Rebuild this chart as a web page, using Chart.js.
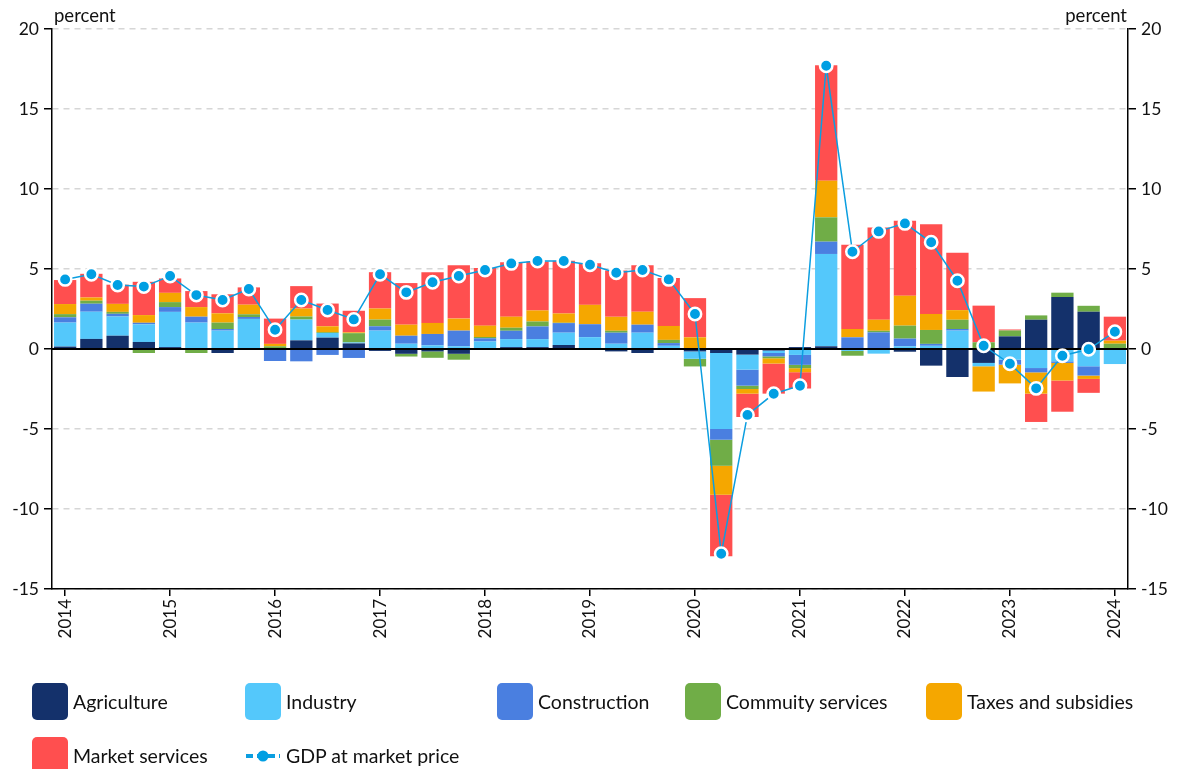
<!DOCTYPE html>
<html>
<head>
<meta charset="utf-8">
<script src="https://cdn.jsdelivr.net/npm/chart.js"></script>
<style>
  html, body { margin: 0; padding: 0; background: #fff; }
  #wrap { position: relative; width: 1179px; height: 769px; overflow: hidden; }
  #box { position: absolute; left: 0; top: 0; width: 1179px; height: 769px; }
  #legend {
    position: absolute; left: 32px; top: 683px;
    display: grid;
    grid-template-columns: 213px 252px 188px 241px auto;
    row-gap: 17px;
    font-family: Lato, "Noto Sans", sans-serif; font-size: 19.5px; color: #111;
  }
  .item { display: flex; align-items: center; height: 37px; }
  .sw { width: 36px; height: 37px; border-radius: 5px; margin-right: 5px; flex: none; }
  .ln { width: 36px; height: 14px; margin-right: 5px; flex: none; }
</style>
</head>
<body>
<div id="wrap">
  <div id="box"><canvas id="chart"></canvas></div>
  <div id="legend"></div>
</div>
<script>
const quarters = [
  '2014 Q1','2014 Q2','2014 Q3','2014 Q4',
  '2015 Q1','2015 Q2','2015 Q3','2015 Q4',
  '2016 Q1','2016 Q2','2016 Q3','2016 Q4',
  '2017 Q1','2017 Q2','2017 Q3','2017 Q4',
  '2018 Q1','2018 Q2','2018 Q3','2018 Q4',
  '2019 Q1','2019 Q2','2019 Q3','2019 Q4',
  '2020 Q1','2020 Q2','2020 Q3','2020 Q4',
  '2021 Q1','2021 Q2','2021 Q3','2021 Q4',
  '2022 Q1','2022 Q2','2022 Q3','2022 Q4',
  '2023 Q1','2023 Q2','2023 Q3','2023 Q4',
  '2024 Q1'
];

// contributions, percentage points
const agriculture = [0.15, 0.63, 0.83, 0.44, 0.12, 0.03, -0.25, 0.05, 0, 0.54, 0.71, 0.35, -0.12, -0.3, -0.15, -0.3,
  0.05, 0.12, 0.12, 0.25, 0.03, -0.15, -0.25, 0.03, -0.15, -0.25, -0.35, -0.1, 0.12, 0.17, 0, 0,
  -0.17, -1.04, -1.75, -0.87, 0.79, 1.83, 3.25, 2.33, 0];
const industry = [1.5, 1.7, 1.2, 1.1, 2.2, 1.62, 1.15, 1.83, 0.05, 1.3, 0.29, 0.06, 1.15, 0.33, 0.23, 0.17,
  0.42, 0.5, 0.5, 0.77, 0.71, 0.33, 1.02, 0.17, -0.46, -4.75, -0.94, -0.15, -0.37, 5.77, -0.12, -0.29,
  0.17, 0.2, 1.15, -0.21, -0.67, -1.19, -0.77, -1.08, -0.94];
const construction = [0.33, 0.5, 0.17, 0.1, 0.3, 0.37, 0.1, 0.12, -0.75, -0.77, -0.37, -0.56, 0.27, 0.5, 0.71, 0.98,
  0.2, 0.52, 0.79, 0.6, 0.81, 0.69, 0.5, 0.17, 0, -0.67, -1.0, -0.21, -0.62, 0.77, 0.73, 1.04,
  0.48, 0.12, 0.1, 0, -0.31, -0.27, -0.1, -0.58, 0];
const community = [0.2, 0.19, 0.12, -0.25, 0.31, -0.25, 0.4, 0.17, 0.12, 0.19, 0.05, 0.58, 0.42, -0.17, -0.4, -0.37,
  0.08, 0.19, 0.31, 0.02, 0, 0.12, 0, 0.2, -0.48, -1.63, -0.21, -0.12, -0.21, 1.52, -0.3, 0.1,
  0.81, 0.87, 0.58, 0.42, 0.37, 0.27, 0.27, 0.37, 0.33];
const taxes = [0.63, 0.2, 0.5, 0.48, 0.58, 0.6, 0.58, 0.6, 0.15, 0.5, 0.37, 0.05, 0.69, 0.69, 0.69, 0.75,
  0.71, 0.69, 0.69, 0.58, 1.21, 0.87, 0.81, 0.87, 0.73, -1.81, -0.29, -0.33, -0.25, 2.29, 0.52, 0.69,
  1.87, 1.0, 0.6, -1.58, -1.17, -1.33, -1.1, -0.21, 0.19];
const market = [1.5, 1.48, 1.2, 2.08, 0.9, 1.0, 1.19, 1.08, 1.58, 1.4, 1.42, 1.35, 2.27, 2.6, 3.17, 3.33,
  3.6, 3.4, 3.06, 3.29, 2.6, 2.9, 2.9, 3.0, 2.45, -3.85, -1.46, -1.88, -1.02, 7.21, 5.27, 5.77,
  4.69, 5.6, 3.58, 2.29, 0.06, -1.77, -1.95, -0.87, 1.5];
const gdp = [4.35, 4.67, 4.0, 3.9, 4.56, 3.37, 3.06, 3.75, 1.2, 3.06, 2.44, 1.85, 4.67, 3.54, 4.17, 4.56,
  4.94, 5.35, 5.5, 5.5, 5.27, 4.77, 4.94, 4.35, 2.19, -12.8, -4.12, -2.8, -2.3, 17.7, 6.08, 7.35,
  7.85, 6.67, 4.27, 0.2, -0.92, -2.46, -0.42, -0.02, 1.08];

const yTicks = [-15, -10, -5, 0, 5, 10, 15, 20];

const FONT = 'Lato, "Noto Sans", sans-serif';

function barSet(label, data, color) {
  return {
    type: 'bar', label: label, data: data, backgroundColor: color,
    stack: 's', order: 1, barPercentage: 0.85, categoryPercentage: 1.0, yAxisID: 'y'
  };
}

// zero line drawn over the bars but under the GDP line
const zeroLine = {
  id: 'zeroLine',
  afterDatasetDraw(chart, args) {
    if (args.index !== 0) return;
    const ctx = chart.ctx, a = chart.chartArea;
    const y0 = chart.scales.y.getPixelForValue(0);
    ctx.save();
    ctx.strokeStyle = '#000';
    ctx.lineWidth = 2;
    ctx.beginPath();
    ctx.moveTo(a.left, y0);
    ctx.lineTo(a.right, y0);
    ctx.stroke();
    ctx.restore();
  }
};

const unitLabels = {
  id: 'unitLabels',
  afterDraw(chart) {
    const ctx = chart.ctx, a = chart.chartArea;
    ctx.save();
    ctx.fillStyle = '#111';
    ctx.font = '18.5px ' + FONT;
    ctx.textBaseline = 'alphabetic';
    ctx.textAlign = 'left';
    ctx.fillText('percent', a.left + 2, 22);
    ctx.textAlign = 'right';
    ctx.fillText('percent', a.right - 1, 22);
    ctx.restore();
  }
};

const yAxisBase = {
  min: -15, max: 20,
  afterBuildTicks(scale) { scale.ticks = yTicks.map(v => ({ value: v })); },
  ticks: { color: '#111', font: { family: FONT, size: 17.5 }, padding: 5 }
};

const chart = new Chart(document.getElementById('chart'), {
  data: {
    labels: quarters,
    datasets: [
      barSet('Agriculture', agriculture, '#14316b'),
      barSet('Industry', industry, '#54c8fb'),
      barSet('Construction', construction, '#4a7fe0'),
      barSet('Commuity services', community, '#70ad47'),
      barSet('Taxes and subsidies', taxes, '#f5a700'),
      barSet('Market services', market, '#ff4f4f'),
      {
        type: 'line', label: 'GDP at market price', data: gdp, order: 0, yAxisID: 'y',
        borderColor: '#0b9ee0', borderWidth: 1.5, tension: 0,
        pointRadius: 6.2, pointHoverRadius: 6.2, pointBackgroundColor: '#009fe3',
        pointBorderColor: '#fff', pointBorderWidth: 2.5
      }
    ]
  },
  options: {
    responsive: true,
    maintainAspectRatio: false,
    animation: false,
    layout: { padding: { top: 29, bottom: 118, left: 0, right: 0 } },
    plugins: {
      legend: { display: false },
      tooltip: { enabled: false }
    },
    scales: {
      x: {
        stacked: true,
        offset: true,
        afterFit(scale) { scale.height = 62; },
        grid: {
          offset: false, drawOnChartArea: false, tickLength: 7,
          tickColor: '#000', lineWidth: 1.5
        },
        border: { display: true, color: '#000', width: 1.5 },
        ticks: {
          autoSkip: false, minRotation: 90, maxRotation: 90, padding: 3,
          color: '#111', font: { family: FONT, size: 17 },
          callback(value, index) {
            return index % 4 === 0 ? quarters[index].slice(0, 4) : null;
          }
        }
      },
      y: Object.assign({}, yAxisBase, {
        stacked: true,
        position: 'left',
        afterFit(scale) { scale.width = 52; },
        grid: {
          color: '#d6d6d6', lineWidth: 1.5,
          tickColor: '#000', tickLength: 8, tickBorderDash: []
        },
        border: { display: true, color: '#000', width: 1.5, dash: [6, 5] }
      }),
      y2: Object.assign({}, yAxisBase, {
        position: 'right',
        afterFit(scale) { scale.width = 51; },
        grid: { drawOnChartArea: false, tickColor: '#000', tickLength: 8, lineWidth: 1.5 },
        border: { display: true, color: '#000', width: 1.5 }
      })
    }
  },
  plugins: [zeroLine, unitLabels]
});

// legend laid out in columns, built from the chart's datasets
const legendEl = document.getElementById('legend');
chart.data.datasets.forEach(ds => {
  const item = document.createElement('div');
  item.className = 'item';
  if (ds.type === 'bar') {
    const sw = document.createElement('span');
    sw.className = 'sw';
    sw.style.background = ds.backgroundColor;
    item.appendChild(sw);
  } else {
    const svg = document.createElementNS('http://www.w3.org/2000/svg', 'svg');
    svg.setAttribute('class', 'ln');
    svg.setAttribute('viewBox', '0 0 36 14');
    svg.innerHTML = '<line x1="1" y1="7" x2="35" y2="7" stroke="' + ds.borderColor +
      '" stroke-width="4" stroke-dasharray="7,4"/>' +
      '<circle cx="18" cy="7" r="5.5" fill="' + ds.pointBackgroundColor + '"/>';
    item.appendChild(svg);
  }
  const t = document.createElement('span');
  t.textContent = ds.label;
  item.appendChild(t);
  legendEl.appendChild(item);
});
</script>
</body>
</html>
